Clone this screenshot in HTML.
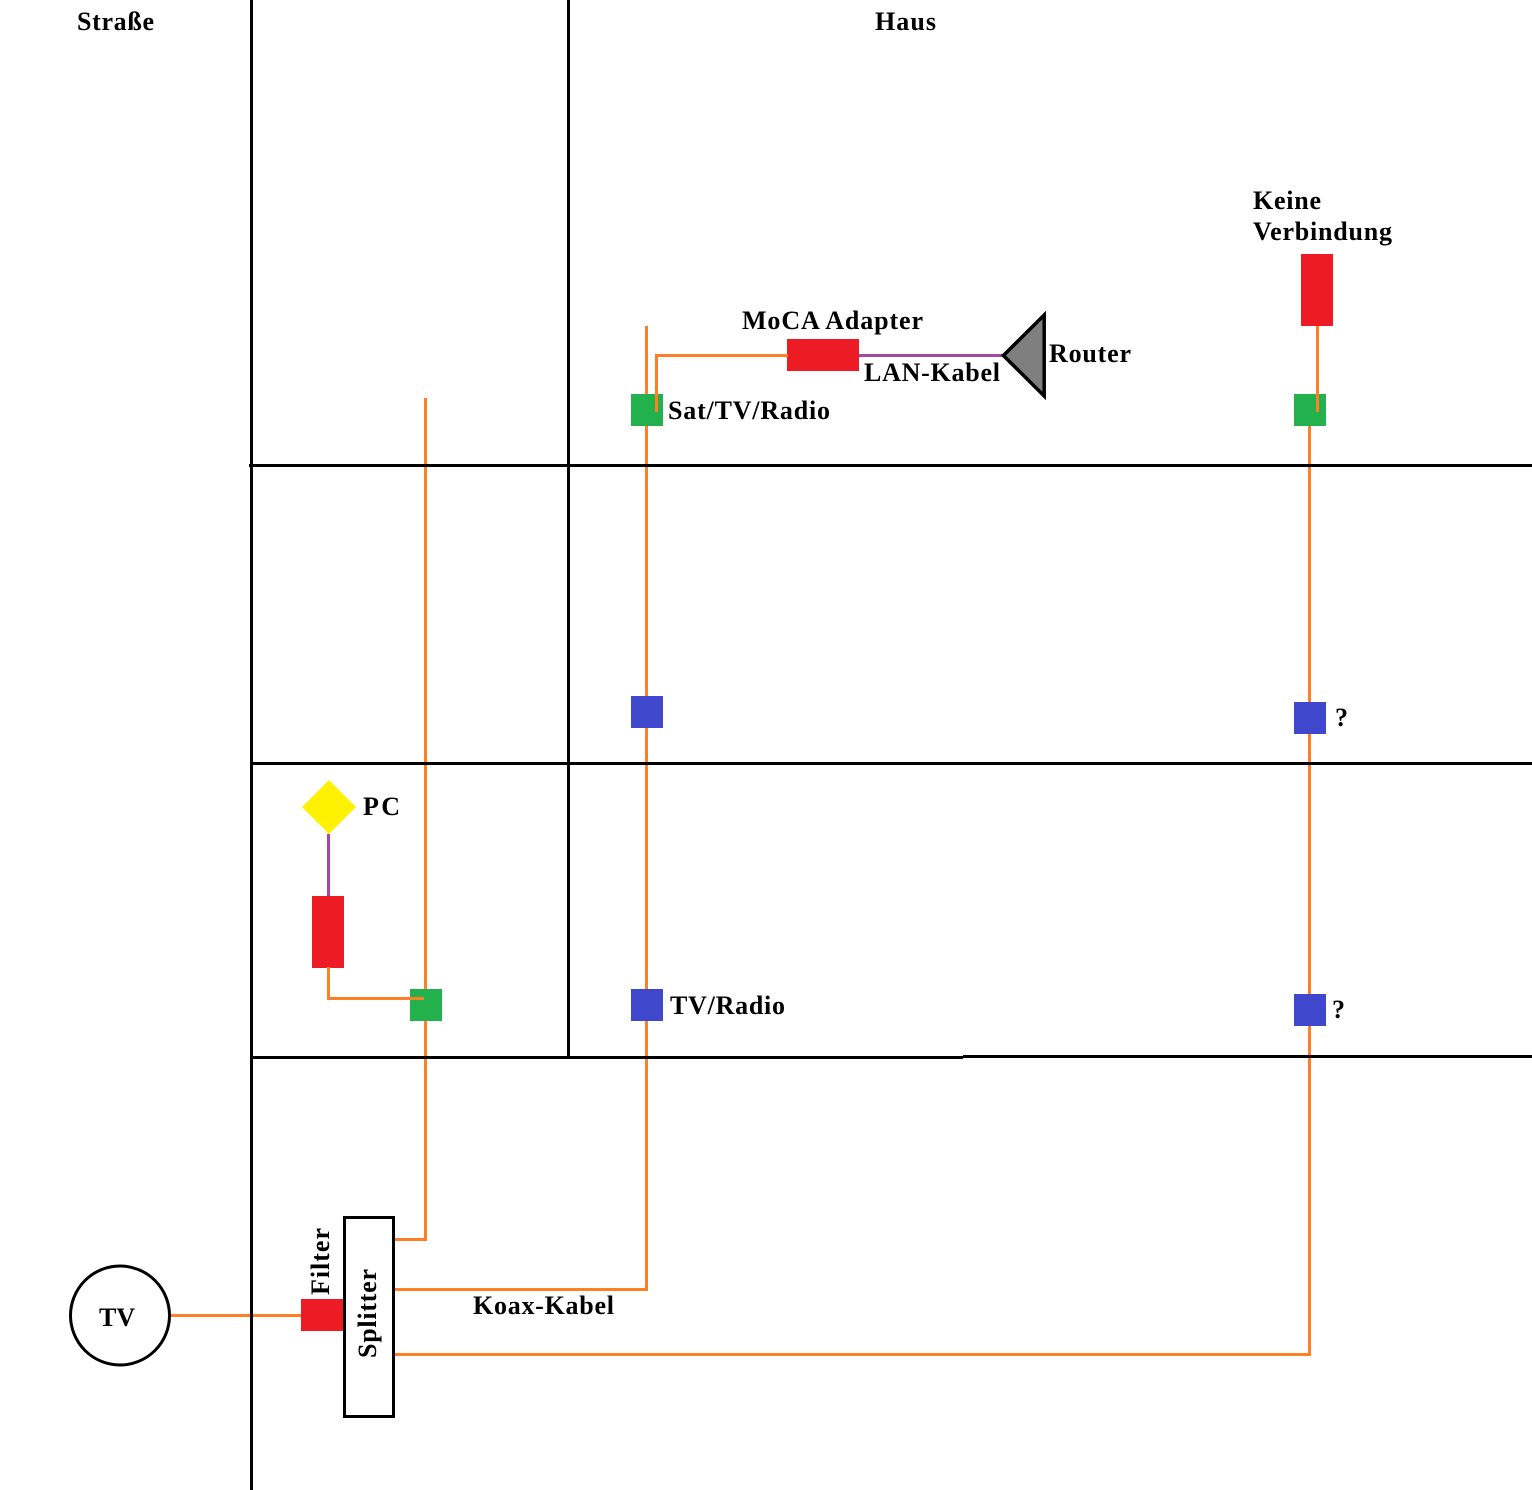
<!DOCTYPE html>
<html>
<head>
<meta charset="utf-8">
<style>
html,body{margin:0;padding:0;background:#fff}
svg{display:block}
text{font-family:"Liberation Serif",serif;font-weight:bold;font-size:26px;fill:#000}
</style>
</head>
<body>
<svg width="1532" height="1490" viewBox="0 0 1532 1490" xmlns="http://www.w3.org/2000/svg">
<g fill="none" stroke="#ff7f27" stroke-width="3">
<path d="M425.500 398V1239.500H394"/>
<path d="M646.500 326V1289.500H394"/>
<path d="M1309.500 410V1354.500H394"/>
<path d="M171 1315.500H302"/>
</g>
<g fill="none" stroke="#a349a4" stroke-width="3">
<path d="M858 355.500H1003"/>
<path d="M328.500 834V897"/>
</g>
<g fill="none" stroke="#000" stroke-width="3">
<path d="M251.500 0V1490"/>
<path d="M568.500 0V1057"/>
<path d="M249 465.500H1532"/>
<path d="M251 763.500H1532"/>
<path d="M251 1057.500H963"/>
<path d="M963 1056.500H1532"/>
</g>
<g fill="#ed1c24">
<rect x="787" y="339" width="72" height="32"/>
<rect x="1301" y="254" width="32" height="72"/>
<rect x="312" y="896" width="32" height="72"/>
<rect x="301" y="1299" width="43" height="32"/>
</g>
<g fill="#22b14c">
<rect x="631" y="394" width="32" height="32"/>
<rect x="1294" y="394" width="32" height="32"/>
<rect x="410" y="989" width="32" height="32"/>
</g>
<g fill="none" stroke="#ff7f27" stroke-width="3">
<path d="M656.500 412V355.500H788"/>
<path d="M1317.500 326V412"/>
<path d="M328.500 967V998.500H424"/>
</g>
<g fill="#3f48cc">
<rect x="631" y="696" width="32" height="32"/>
<rect x="1294" y="702" width="32" height="32"/>
<rect x="631" y="989" width="32" height="32"/>
<rect x="1294" y="994" width="32" height="32"/>
</g>
<polygon points="329,780 356,807 329,834 302,807" fill="#fff200"/>
<polygon points="1044.200,315 1044.200,396 1003.400,355.500" fill="#7f7f7f" stroke="#000" stroke-width="3.500"/>
<circle cx="120" cy="1315.500" r="49.500" fill="#fff" stroke="#000" stroke-width="3"/>
<rect x="344.500" y="1217.500" width="49" height="199" fill="#fff" stroke="#000" stroke-width="3"/>
<text x="77" y="30" textLength="77">Straße</text>
<text x="875" y="30" textLength="61">Haus</text>
<text x="1253" y="209" textLength="68">Keine</text>
<text x="1253" y="240" textLength="139">Verbindung</text>
<text x="742" y="329" textLength="181">MoCA Adapter</text>
<text x="864" y="381" textLength="136">LAN-Kabel</text>
<text x="1049" y="362" textLength="82">Router</text>
<text x="668" y="419" textLength="162">Sat/TV/Radio</text>
<text x="1335" y="726">?</text>
<text x="1332" y="1018">?</text>
<text x="363" y="815" textLength="37">PC</text>
<text x="670" y="1014" textLength="115">TV/Radio</text>
<text x="473" y="1314" textLength="141">Koax-Kabel</text>
<text x="99" y="1326">TV</text>
<text transform="translate(329 1295) rotate(-90)" textLength="67">Filter</text>
<text transform="translate(376 1358) rotate(-90)" textLength="89">Splitter</text>
</svg>
</body>
</html>
